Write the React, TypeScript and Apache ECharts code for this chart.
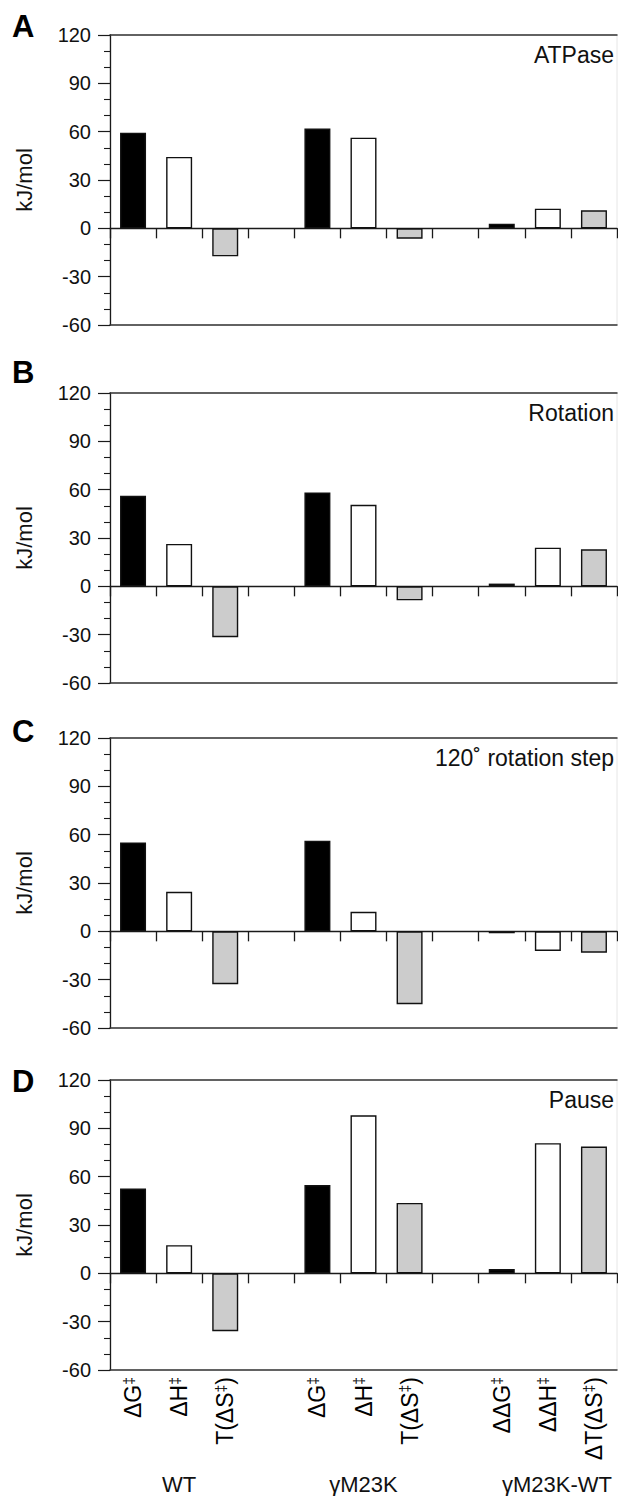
import React, { useEffect, useRef } from "react";
import * as echarts from "echarts";

const FONT = "Liberation Sans, Arial, Helvetica, sans-serif";

const panelLetters = ["A", "B", "C", "D"];
const panelTitles = ["ATPase", "Rotation", "120˚ rotation step", "Pause"];
const categories = ["ΔG‡", "ΔH‡", "T(ΔS‡)", "", "ΔG‡", "ΔH‡", "T(ΔS‡)", "", "ΔΔG‡", "ΔΔH‡", "ΔT(ΔS‡)"];
const barFills = ["#000000", "#ffffff", "#cccccc", "", "#000000", "#ffffff", "#cccccc", "", "#000000", "#ffffff", "#cccccc"];
const groupLabels = ["WT", "γM23K", "γM23K-WT"];

const atpase = [59.4, 44.3, -17.4, null, 61.9, 56.3, -6.4, null, 2.9, 12.2, 11.2];
const rotation = [56.2, 26.3, -31.6, null, 58.3, 50.6, -8.7, null, 1.7, 24.0, 23.0];
const rotationStep = [55.2, 24.5, -32.8, null, 56.3, 12.1, -45.2, null, -1.2, -12.2, -13.3];
const pause = [52.6, 17.5, -35.9, null, 54.8, 98.1, 43.7, null, 2.7, 80.8, 78.7];
const panelData = [atpase, rotation, rotationStep, pause];

const yMin = -60;
const yMax = 120;
const yInterval = 30;

const gridTops = [35, 393, 738, 1080];
const letterTops = [11, 357, 716, 1066];
const GRID_LEFT = 110;
const GRID_WIDTH = 507;
const GRID_HEIGHT = 290;

export default function App() {
  const ref = useRef<HTMLDivElement>(null);

  useEffect(() => {
    if (!ref.current) return;
    const chart = echarts.init(ref.current, undefined, { renderer: "svg" });
    const axisColor = "#1a1a1a";

    const titles: any[] = [];
    panelTitles.forEach((t, i) => {
      titles.push({
        text: t,
        right: 4,
        top: gridTops[i] + 8,
        padding: 0,
        textStyle: { fontSize: 23, fontWeight: "normal", color: "#111", fontFamily: FONT },
      });
      titles.push({
        text: panelLetters[i],
        left: 12,
        top: letterTops[i],
        padding: 0,
        textStyle: { fontSize: 31, fontWeight: "bold", color: "#000", fontFamily: FONT },
      });
    });

    const grids = gridTops.map((t) => ({
      left: GRID_LEFT,
      top: t,
      width: GRID_WIDTH,
      height: GRID_HEIGHT,
      show: true,
      borderColor: "#e6e6e6",
      borderWidth: 1,
      backgroundColor: "transparent",
    }));

    const xAxes: any[] = [];
    panelData.forEach((_, i) => {
      xAxes.push({
        gridIndex: i,
        type: "category",
        data: categories,
        position: "bottom",
        axisLine: { show: true, onZero: true, lineStyle: { color: axisColor, width: 1.3 } },
        axisTick: { show: true, inside: false, length: 10, interval: 0, lineStyle: { color: axisColor, width: 1.3 } },
        axisLabel: { show: false },
        splitLine: { show: false },
      });
      xAxes.push({
        gridIndex: i,
        type: "category",
        data: categories,
        position: "bottom",
        axisLine: { show: true, onZero: false, lineStyle: { color: "#333", width: 1.5 } },
        axisTick: { show: false },
        axisLabel:
          i === 3
            ? {
                show: true,
                interval: 0,
                rotate: 90,
                margin: 7,
                fontSize: 23,
                color: "#000",
                fontFamily: FONT,
                formatter: (v: string) => v.replace("‡", "{s|‡}"),
                rich: {
                  s: { fontSize: 14, verticalAlign: "top", color: "#000", fontFamily: FONT },
                },
              }
            : { show: false },
        splitLine: { show: false },
      });
      xAxes.push({
        gridIndex: i,
        type: "category",
        data: categories,
        position: "top",
        axisLine: { show: true, onZero: false, lineStyle: { color: "#333", width: 1.5 } },
        axisTick: { show: false },
        axisLabel: { show: false },
        splitLine: { show: false },
      });
    });

    const yAxes = panelData.map((_, i) => ({
      gridIndex: i,
      type: "value",
      min: yMin,
      max: yMax,
      interval: yInterval,
      axisLine: { show: true, lineStyle: { color: axisColor, width: 1.3 } },
      axisTick: { show: true, length: 12, lineStyle: { color: axisColor, width: 1.2 } },
      minorTick: { show: true, splitNumber: 3, length: 6, lineStyle: { color: axisColor, width: 1.1 } },
      splitLine: { show: false },
      minorSplitLine: { show: false },
      axisLabel: { fontSize: 20, margin: 19, color: "#111", fontFamily: FONT },
      name: "kJ/mol",
      nameLocation: "middle",
      nameRotate: 90,
      nameGap: 75,
      nameTextStyle: { fontSize: 22, color: "#111", fontFamily: FONT },
    }));

    const series = panelData.map((vals, i) => ({
      type: "bar",
      xAxisIndex: i * 3,
      yAxisIndex: i,
      barWidth: 26,
      itemStyle: { borderColor: "#111", borderWidth: 1.4 },
      data: vals.map((v, j) =>
        v === null ? "-" : { value: v, itemStyle: { color: barFills[j], borderColor: "#111", borderWidth: 1.4 } }
      ),
    }));

    const catW = GRID_WIDTH / categories.length;
    const groupCenters = [1, 5, 9].map((k) => GRID_LEFT + catW * (k + 0.5));
    groupCenters[2] = 557;
    const graphics = groupLabels.map((g, k) => ({
      type: "text",
      x: groupCenters[k],
      y: 1484,
      style: {
        text: g,
        fontSize: 22,
        fontFamily: FONT,
        fill: "#111",
        textAlign: "center",
        textVerticalAlign: "middle",
      },
    }));

    chart.setOption({
      animation: false,
      textStyle: { fontFamily: FONT },
      title: titles,
      grid: grids,
      xAxis: xAxes,
      yAxis: yAxes,
      series,
      graphic: graphics,
    });

    return () => chart.dispose();
  }, []);

  return (
    <div
      ref={ref}
      style={{ position: "absolute", left: 0, top: 0, width: 618, height: 1496, background: "#fff" }}
    />
  );
}
